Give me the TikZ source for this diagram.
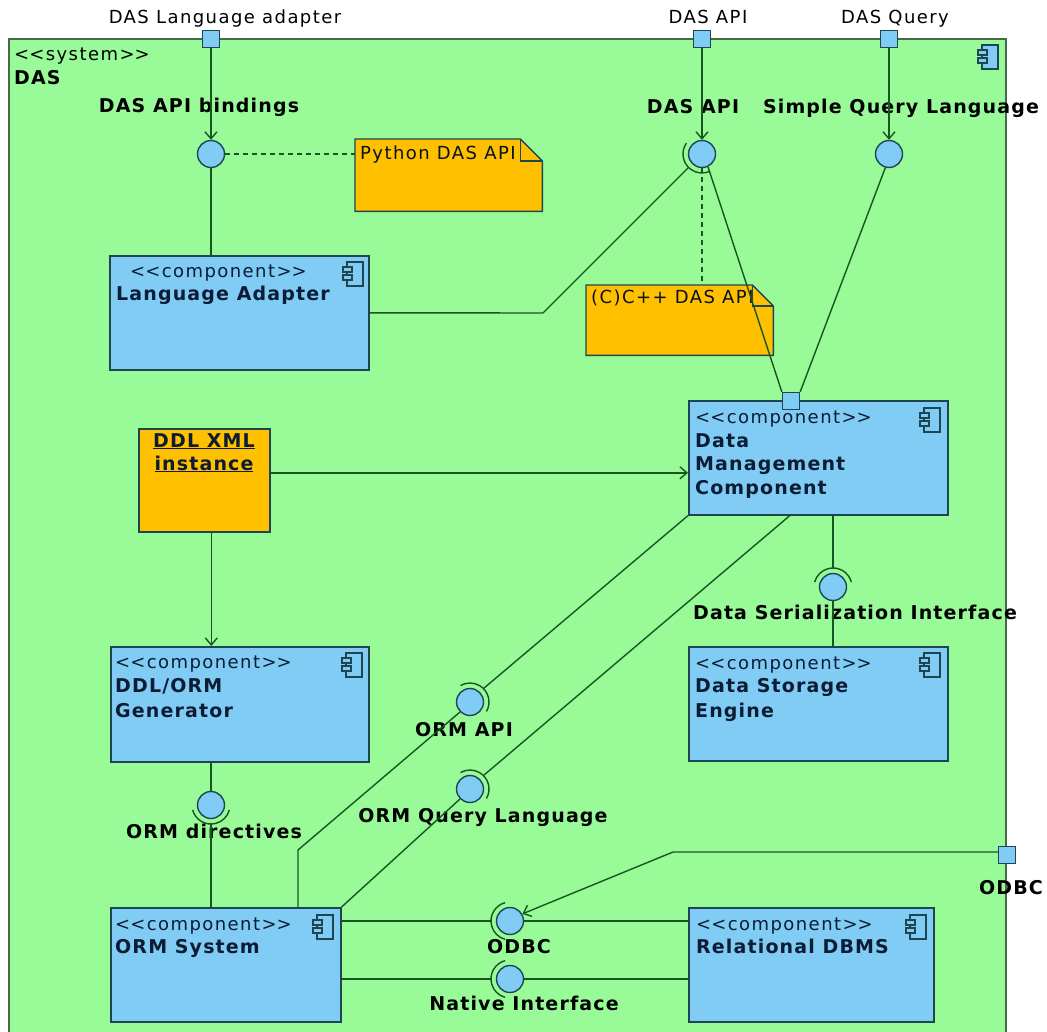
\documentclass[tikz,border=0pt]{standalone}
\usepackage{fontspec}
\setmainfont{DejaVu Sans}
\newfontfamily\regf{DejaVu Sans}[LetterSpace=8]
\newfontfamily\boldf{DejaVu Sans}[LetterSpace=6]
\usetikzlibrary{arrows.meta,calc}
\definecolor{bggreen}{RGB}{152,251,152}
\definecolor{compblue}{RGB}{128,204,245}
\definecolor{noteorange}{RGB}{255,192,0}
\definecolor{wire}{RGB}{25,85,35}
\definecolor{edgec}{RGB}{30,70,80}
\definecolor{ink}{RGB}{12,28,52}
\definecolor{framec}{RGB}{70,105,75}
\newcommand\sockarc[2]{\draw[sock] ($(#1)+(#2-75:19pt)$) arc[start angle=#2-75, end angle=#2+75, radius=19pt];}
\newcommand\stlt{<\kern0pt<}
\newcommand\stgt{>\kern0pt>}
\begin{document}
\begin{tikzpicture}[x=1pt,y=-1pt,
  framebox/.style={draw=framec, fill=bggreen, line width=1.6pt, rectangle, inner sep=0pt, anchor=north west},
  comp/.style={draw=edgec, fill=compblue, line width=1.6pt, rectangle, inner sep=0pt, anchor=north west},
  notebody/.style={draw=edgec, fill=noteorange, line width=1.4pt},
  notebox/.style={rectangle, inner sep=0pt, anchor=north west},
  port/.style={draw=edgec, fill=compblue, line width=1.4pt, rectangle, minimum size=17pt, inner sep=0pt},
  ball/.style={draw=edgec, fill=compblue, line width=1.4pt, circle, minimum size=27pt, inner sep=0pt},
  sock/.style={draw=wire, line width=1.4pt},
  wirel/.style={draw=wire, line width=1.4pt},
  arr/.style={wirel, -{Straight Barb[length=7pt,width=12pt]}},
  dashline/.style={draw=wire, line width=1.4pt, dash pattern=on 5pt off 4pt},
  txt/.style={inner sep=0pt, text height=12pt, text depth=0pt, font=\fontsize{18}{20}\selectfont\regf, text=black},
  btxt/.style={txt, font=\fontsize{19}{22}\selectfont\boldf\bfseries},
  ntxt/.style={txt, anchor=west, text=ink!60!black},
  ster/.style={txt, anchor=west, text=ink},
  cname/.style={btxt, anchor=west, text=ink},
  cicon/.pic={
    \draw[edgec, line width=1.2pt, fill=compblue] (4,0) rectangle (20,24);
    \draw[edgec, line width=1.2pt, fill=compblue] (0,5) rectangle (9,10);
    \draw[edgec, line width=1.2pt, fill=compblue] (0,13) rectangle (9,18);
  }
]
\path[use as bounding box, clip] (0,0) rectangle (1047,1032);
\fill[white] (0,0) rectangle (1047,1032);

% system frame
\node[framebox, minimum width=997pt, minimum height=1020pt] (das) at (8,38) {};
\node[txt, anchor=west] (sysst) at (14,55) {\stlt system\stgt};
\node[btxt, anchor=west] (sysname) at (14,79) {DAS};
\pic at (978,45) {cicon};

% notes
\node[notebox, minimum width=187pt, minimum height=72pt] (nPy) at (355,139) {};
\draw[notebody] (nPy.south west) -- (nPy.north west) -- ([xshift=-22pt]nPy.north east) -- ([yshift=-22pt]nPy.north east) -- (nPy.south east) -- cycle;
\draw[notebody, fill=none] ([xshift=-22pt]nPy.north east) -- ([xshift=-22pt,yshift=-22pt]nPy.north east) -- ([yshift=-22pt]nPy.north east);
\node[ntxt] (nPyT) at (360,154) {Python DAS API};
\coordinate (nPyW) at (355,154);

\node[notebox, minimum width=187pt, minimum height=70pt] (nCpp) at (586,285) {};
\draw[notebody] (nCpp.south west) -- (nCpp.north west) -- ([xshift=-21pt]nCpp.north east) -- ([yshift=-21pt]nCpp.north east) -- (nCpp.south east) -- cycle;
\draw[notebody, fill=none] ([xshift=-21pt]nCpp.north east) -- ([xshift=-21pt,yshift=-21pt]nCpp.north east) -- ([yshift=-21pt]nCpp.north east);
\node[ntxt] (nCppT) at (591,298) {(C)C++ DAS API};

% components
\node[comp, minimum width=259pt, minimum height=114pt] (cLA) at (109,255) {};
\node[ster] at (130,272) {\stlt component\stgt};
\node[cname] at (116,295) {Language Adapter};
\pic at (343,262) {cicon};

\node[comp, minimum width=259pt, minimum height=114pt] (cDM) at (688,400) {};
\node[ster] at (695,417) {\stlt component\stgt};
\node[cname] at (695,441) {Data};
\node[cname] at (695,464) {Management};
\node[cname] at (695,488) {Component};
\pic at (920,408) {cicon};

\node[comp, minimum width=259pt, minimum height=114pt] (cDSE) at (688,646) {};
\node[ster] at (695,663) {\stlt component\stgt};
\node[cname] at (695,686) {Data Storage};
\node[cname] at (695,711) {Engine};
\pic at (920,653) {cicon};

\node[comp, minimum width=258pt, minimum height=115pt] (cGen) at (110,646) {};
\node[ster] at (115,662) {\stlt component\stgt};
\node[cname] at (115,686) {DDL/ORM};
\node[cname] at (115,711) {Generator};
\pic at (342,653) {cicon};

\node[comp, minimum width=230pt, minimum height=114pt] (cORM) at (110,907) {};
\node[ster] at (115,924) {\stlt component\stgt};
\node[cname] at (115,947) {ORM System};
\pic at (313,915) {cicon};

\node[comp, minimum width=245pt, minimum height=114pt] (cRDB) at (688,907) {};
\node[ster] at (696,924) {\stlt component\stgt};
\node[cname] at (696,947) {Relational DBMS};
\pic at (906,915) {cicon};

% DDL XML instance
\node[comp, fill=noteorange, minimum width=131pt, minimum height=103pt] (ddl) at (138,428) {};
\node[btxt, text=ink] at (204,441) {\underline{DDL XML}};
\node[btxt, text=ink] at (204,464) {\underline{instance}};

% ports
\node[port] (pLA) at (211,39) {};
\node[port] (pAPI) at (702,39) {};
\node[port] (pQ) at (889,39) {};
\node[port] (pDM) at (791,401) {};
\node[port] (pODBC) at (1007,855) {};
\node[txt] at (225,18) {DAS Language adapter};
\node[txt] at (708,18) {DAS API};
\node[txt] at (895,18) {DAS Query};
\node[btxt] at (1011,888) {ODBC};

% interfaces
\node[ball] (iBind) at (211,154) {};
\node[ball] (iAPI) at (702,154) {};
\node[ball] (iSQL) at (889,154) {};
\node[ball] (iDSI) at (833,587) {};
\node[ball] (iORMAPI) at (470,702) {};
\node[ball] (iORMQL) at (470,789) {};
\node[ball] (iDir) at (211,805) {};
\node[ball] (iODBC) at (510,921) {};
\node[ball] (iNat) at (510,979) {};
\sockarc{iAPI}{220}
\sockarc{iDSI}{90}
\sockarc{iORMAPI}{45}
\sockarc{iORMQL}{45}
\sockarc{iDir}{-90}
\sockarc{iODBC}{180}
\sockarc{iNat}{180}

\node[btxt] at (199,107) {DAS API bindings};
\node[btxt] at (693,108) {DAS API};
\node[btxt] at (901,108) {Simple Query Language};
\node[btxt] at (855,613) {Data Serialization Interface};
\node[btxt] at (464,730) {ORM API};
\node[btxt] at (483,816) {ORM Query Language};
\node[btxt] at (214,832) {ORM directives};
\node[btxt] at (519,947) {ODBC};
\node[btxt] at (524,1004) {Native Interface};

% connectors
\coordinate (bLA) at (543,313);
\coordinate (bORM) at (298,850);
\coordinate (bODBC) at (673,849);

\draw[arr] (pLA) -- (iBind);
\draw[wirel] (iBind.south) -- (iBind.south |- cLA.north);
\draw[dashline] (iBind.east) -- (nPyW);
\draw[arr] (pAPI) -- (iAPI);
\draw[arr] (pQ) -- (iSQL);
\draw[wirel] (cLA.east) -- (bLA) -- ($(iAPI)+(225:19pt)$);
\draw[dashline] (iAPI.south) -- (iAPI.south |- nCpp.north);
\draw[wirel] (iAPI.-65) -- (pDM.north west);
\draw[wirel] (iSQL.-105) -- (pDM.north east);
\draw[arr] ([yshift=7.5pt]ddl.east) -- ([yshift=7.5pt]ddl.east -| cDM.west);
\draw[arr] ([xshift=7pt]ddl.south) -- ([xshift=7pt]ddl.south |- cGen.north);
\draw[wirel] (cGen.south -| iDir) -- (iDir.north);
\draw[wirel] ($(iDir)+(-90:19pt)$) -- (iDir |- cORM.north);
\draw[wirel] (cDM.south west) -- ($(iORMAPI)+(45:19pt)$);
\draw[wirel] (iORMAPI.225) -- (bORM) -- (bORM |- cORM.north);
\draw[wirel] ([xshift=-28.5pt]cDM.south) -- ($(iORMQL)+(45:19pt)$);
\draw[wirel] (iORMQL.225) -- (cORM.north east);
\draw[wirel] (cDM.south -| iDSI) -- ($(iDSI)+(90:19pt)$);
\draw[wirel] (iDSI.south) -- (iDSI |- cDSE.north);
\draw[wirel] (cORM.east |- iODBC) -- ($(iODBC)+(180:19pt)$);
\draw[wirel] (iODBC.east) -- (iODBC -| cRDB.west);
\draw[wirel] (cORM.east |- iNat) -- ($(iNat)+(180:19pt)$);
\draw[wirel] (iNat.east) -- (iNat -| cRDB.west);
\draw[arr] (pODBC.162) -- (pODBC.162 -| bODBC) -- (iODBC.30);
\end{tikzpicture}
\end{document}
